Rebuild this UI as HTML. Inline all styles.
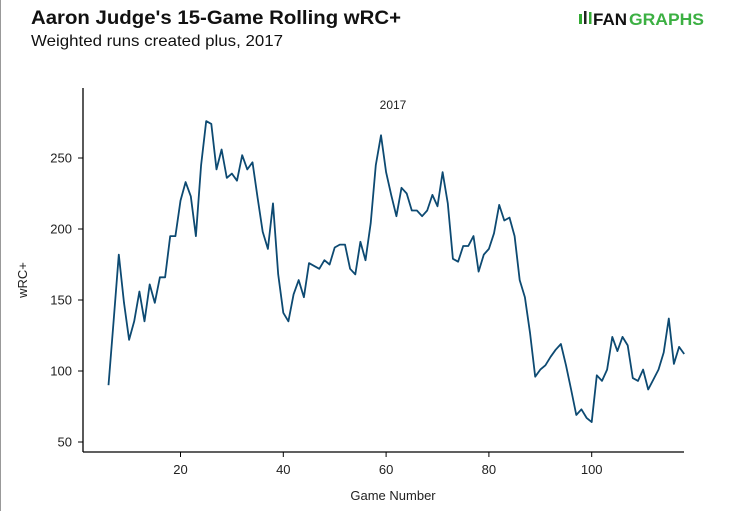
<!DOCTYPE html>
<html><head><meta charset="utf-8"><style>
body{margin:0;background:#fff;}
#wrap{position:relative;width:730px;height:511px;overflow:hidden;font-family:"Liberation Sans",sans-serif;border-left:1px solid #999;box-sizing:border-box;}
</style></head><body>
<div id="wrap">
<svg id="chart" width="730" height="511">
<text x="30" y="24" font-size="19" font-weight="bold" fill="#111" textLength="370" lengthAdjust="spacingAndGlyphs">Aaron Judge's 15-Game Rolling wRC+</text>
<text x="30" y="46" font-size="16" fill="#111" textLength="252" lengthAdjust="spacingAndGlyphs">Weighted runs created plus, 2017</text>
<g>
<rect x="578" y="14" width="3" height="10" fill="#3a3" />
<rect x="583" y="11" width="2.5" height="13" fill="#222" />
<rect x="588" y="12" width="2.5" height="12" fill="#3a3" />
<text x="592" y="25" font-size="17" font-weight="bold" fill="#111">FAN</text>
<text x="628" y="25" font-size="17" font-weight="bold" fill="#3cb043" textLength="75" lengthAdjust="spacingAndGlyphs">GRAPHS</text>
</g>
<text x="392" y="109" font-size="12" fill="#222" text-anchor="middle">2017</text>
<line x1="82" y1="88" x2="82" y2="452" stroke="#000" stroke-width="1.3"/>
<line x1="82" y1="452" x2="683" y2="452" stroke="#000" stroke-width="1.3"/>
<g id="xt"></g><g id="yt"></g>
<text x="392" y="500" font-size="13" fill="#222" text-anchor="middle">Game Number</text>
<text x="26" y="280" font-size="13" fill="#222" text-anchor="middle" transform="rotate(-90 26 280)">wRC+</text>
<path id="line" fill="none" stroke="#0d4a72" stroke-width="1.8" stroke-linejoin="round"/>
</svg>
</div>
<script>
const games=[6,7,8,9,10,11,12,13,14,15,16,17,18,19,20,21,22,23,24,25,26,27,28,29,30,31,32,33,34,35,36,37,38,39,40,41,42,43,44,45,46,47,48,49,50,51,52,53,54,55,56,57,58,59,60,61,62,63,64,65,66,67,68,69,70,71,72,73,74,75,76,77,78,79,80,81,82,83,84,85,86,87,88,89,90,91,92,93,94,95,96,97,98,99,100,101,102,103,104,105,106,107,108,109,110,111,112,113,114,115,116,117,118];
const wrc=[90,136,182,148,122,135,156,135,161,148,166,166,195,195,220,233,223,195,245,276,274,242,256,236,239,234,252,242,247,222,198,186,218,168,141,135,154,164,152,176,174,172,178,175,187,189,189,172,168,191,178,204,245,266,240,224,209,229,225,213,213,209,213,224,216,240,218,179,177,188,188,195,170,182,186,197,217,206,208,195,164,152,127,96,101,104,110,115,119,104,87,69,73,67,64,97,93,101,124,114,124,118,95,93,101,87,94,101,113,137,105,117,112];
const xTicks=[20,40,60,80,100];
const yTicks=[50,100,150,200,250];
const X=g=>76.7+(g)*5.14;
const Y=v=>158+(250-v)*1.42;
const NS="http://www.w3.org/2000/svg";
const xt=document.getElementById('xt'),yt=document.getElementById('yt');
xTicks.forEach(t=>{
 const l=document.createElementNS(NS,'line');
 l.setAttribute('x1',X(t));l.setAttribute('x2',X(t));l.setAttribute('y1',452);l.setAttribute('y2',457);l.setAttribute('stroke','#000');
 
 
 xt.appendChild(l);
 const s=document.createElementNS(NS,'text');
 s.setAttribute('x',X(t));s.setAttribute('y',474);s.setAttribute('font-size','13');s.setAttribute('text-anchor','middle');s.setAttribute('fill','#222');
 s.textContent=t;
 
 
 xt.appendChild(s);
});
yTicks.forEach(t=>{
 const l=document.createElementNS(NS,'line');
 l.setAttribute('x1',77);l.setAttribute('x2',82);l.setAttribute('y1',Y(t));l.setAttribute('y2',Y(t));l.setAttribute('stroke','#000');
 
 
 yt.appendChild(l);
 const s=document.createElementNS(NS,'text');
 s.setAttribute('x',71);s.setAttribute('y',Y(t)+4.5);s.setAttribute('font-size','13');s.setAttribute('text-anchor','end');s.setAttribute('fill','#222');
 s.textContent=t;
 
 
 yt.appendChild(s);
});
document.getElementById('line').setAttribute('d',games.map((g,i)=>(i?'L':'M')+X(g).toFixed(1)+','+Y(wrc[i]).toFixed(1)).join(''));
</script>
</body></html>
